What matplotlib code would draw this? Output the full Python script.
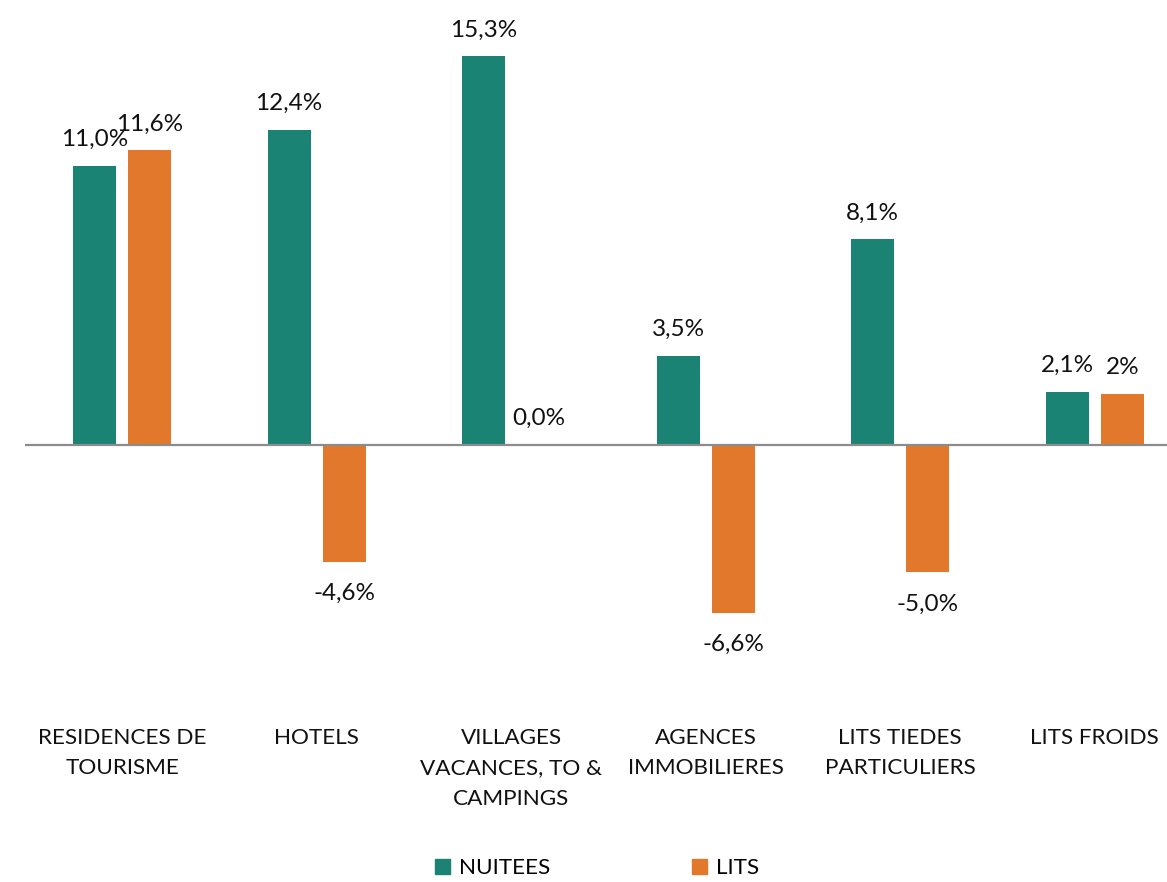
import numpy as np
import matplotlib
matplotlib.use("Agg")
import matplotlib.pyplot as plt
from matplotlib.patches import Patch

plt.rcParams["font.family"] = ["Lato", "DejaVu Sans"]

# Données
categories = ["RESIDENCES DE\nTOURISME", "HOTELS", "VILLAGES\nVACANCES, TO &\nCAMPINGS",
              "AGENCES\nIMMOBILIERES", "LITS TIEDES\nPARTICULIERS", "LITS FROIDS"]
nuitees = [11.0, 12.4, 15.3, 3.5, 8.1, 2.1]
lits = [11.6, -4.6, 0.0, -6.6, -5.0, 2.0]
nuitees_labels = ["11,0%", "12,4%", "15,3%", "3,5%", "8,1%", "2,1%"]
lits_labels = ["11,6%", "-4,6%", "0,0%", "-6,6%", "-5,0%", "2%"]

TEAL = "#1A8374"
ORANGE = "#E2782B"
FS = 17.5
FS_CAT = 16.2

W, H = 1167, 882
fig = plt.figure(figsize=(W / 100, H / 100), dpi=100)

# axes en pixels : x de 25 à 1167, y de 20 à 715 (depuis le haut)
left, right, top, bottom = 25, 1167, 20, 715
ax = fig.add_axes([left / W, 1 - bottom / H, (right - left) / W, (bottom - top) / H])

step = 194.5  # px par catégorie
px_per_pct = 25.4
zero_y = 445
ax.set_xlim(-0.5, -0.5 + (right - left) / step)
ax.set_ylim(-(bottom - zero_y) / px_per_pct, (zero_y - top) / px_per_pct)

x = np.arange(len(categories))
w = 0.22
off = 0.142
ax.bar(x - off, nuitees, w, color=TEAL)
ax.bar(x + off, lits, w, color=ORANGE)

ax.axhline(0, color="#8C8C8C", lw=1.6, zorder=3)

def put_labels(xs, vals, labels):
    for xi, v, lab in zip(xs, vals, labels):
        dy = 19 if v >= 0 else -23
        ax.annotate(lab, (xi, v), xytext=(0, dy), textcoords="offset points",
                    ha="center", va="center", fontsize=FS, color="#111111")

put_labels(x - off, nuitees, nuitees_labels)
put_labels(x + off, lits, lits_labels)

ax.set_xticks(x)
ax.set_xticklabels(categories, fontsize=FS_CAT, linespacing=1.68, color="#111111")
ax.tick_params(axis="x", length=0, pad=9)
ax.set_yticks([])
for s in ax.spines.values():
    s.set_visible(False)

handles = [Patch(color=TEAL, label="NUITEES"), Patch(color=ORANGE, label="LITS")]
fig.legend(handles=handles, loc="center", bbox_to_anchor=(597 / W, 1 - 868 / H), ncol=2,
           frameon=False, fontsize=FS_CAT, handlelength=0.65, handleheight=0.65,
           handletextpad=0.4, columnspacing=6.3)

fig.savefig("out.png", dpi=100)
